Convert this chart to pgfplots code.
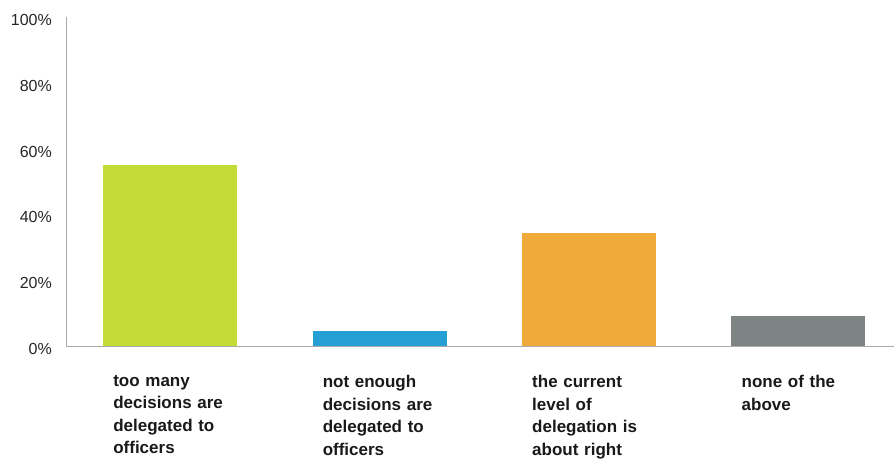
\documentclass[border=0pt]{standalone}
\usepackage{fontspec}
\setmainfont{Liberation Sans}
\usepackage{pgfplots}
\pgfplotsset{compat=1.18}
\definecolor{cgreen}{RGB}{197,220,56}
\definecolor{cblue}{RGB}{38,160,212}
\definecolor{corange}{RGB}{240,170,58}
\definecolor{cgray}{RGB}{126,132,131}
\definecolor{axgray}{RGB}{170,170,170}
\begin{document}
\begin{tikzpicture}
\useasboundingbox (-66pt,-113pt) rectangle (828pt,346pt);
\begin{axis}[
  at={(0pt,0pt)}, anchor=south west,
  width=828pt, height=329pt, scale only axis,
  xmin=-0.497, xmax=3.456, ymin=0, ymax=100,
  axis lines=left,
  axis line style={-, draw=axgray, line width=0.9pt},
  ytick={0,20,40,60,80,100},
  yticklabel={\pgfmathprintnumber{\tick}\%},
  /pgf/number format/assume math mode=true,
  major tick length=0pt,
  yticklabel style={font=\fontsize{16}{19}\selectfont, anchor=east, inner sep=0pt, xshift=-14pt, yshift=-3pt, text=black!85},
  xtick={0,1,2,3},
  xticklabels={{too many\\decisions are\\delegated to\\officers},
               {not enough\\decisions are\\delegated to\\officers},
               {the current\\level of\\delegation is\\about right},
               {none of the\\above}},
  xticklabel style={font=\fontsize{17}{22.5}\selectfont\bfseries, text=black!90, align=left, text width=150pt, anchor=north west, inner sep=0pt, xshift=-57pt, yshift=-29pt},
  ybar, bar width=134pt, bar shift=0pt,
  clip=false,
]
\addplot[fill=cgreen, draw=none] coordinates {(0,55)};
\addplot[fill=cblue, draw=none] coordinates {(1,4.5)};
\addplot[fill=corange, draw=none] coordinates {(2,34.5)};
\addplot[fill=cgray, draw=none] coordinates {(3,9)};
\end{axis}
\end{tikzpicture}
\end{document}
